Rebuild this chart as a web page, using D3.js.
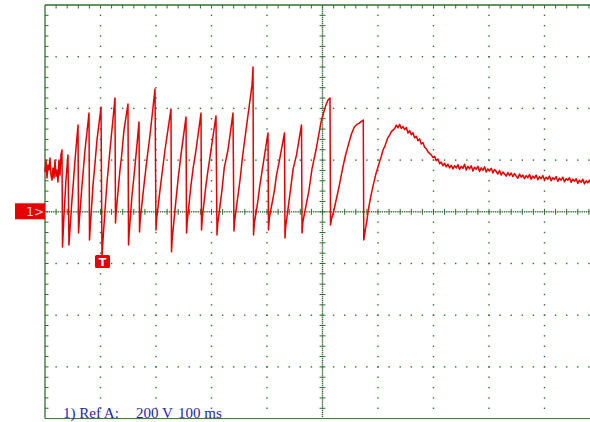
<!DOCTYPE html>
<html><head><meta charset="utf-8">
<script src="https://cdn.jsdelivr.net/npm/d3@7"></script>
<style>html,body{margin:0;padding:0;background:#fff;overflow:hidden}</style>
</head><body>
<svg id="c" width="590" height="422"></svg>
<script>
// Oscilloscope trace: Ref A, 200 V/div, 100 ms/div
const timeMs = [
0,1.8,3.6,5.4,7.2,9.0,10.8,12.6,14.4,16.2,18,19.8,21.6,23.4,25.2,27,28.8,30.6,
31.5,32.6,34.2,37.8,39.5,41.4,
43.2,44.5,48.6,51,54.1,59.5,
60.4,61.6,66.7,69,72.1,79.3,
80.2,81.4,86.5,90,93.7,100.9,
102.7,104.2,108.1,112,117.1,126.1,
127.0,128.3,135.1,138,142.3,149.5,
150.5,151.8,156.8,160,164.0,169.4,
170.3,171.6,178.4,183,189.2,198.2,
200.0,201.3,207.2,211,216.2,227.0,
227.9,229.4,236.0,240,245.0,254.1,
255.0,256.4,263.1,267,272.1,281.1,
282.0,283.4,290.1,294,299.1,308.1,
309.9,311.3,318.9,323,329.7,338.7,
340.5,342.0,351.4,356,362.2,369.4,373.0,374.8,
375.7,377.2,383.8,387,392.8,401.8,
402.7,404.1,413.5,417,422.5,431.5,
432.4,433.8,442.3,447,453.2,462.2,
463.1,464.6,475.7,481,488.3,497.3,501,504.5,507,509.9,513.5,
514.4,516.5,519.4,526.6,531,535.7,541,546.5,552,557.3,562,566.3,570,573.5,
574.4,576,577.1,580,582.5,587,591.5,596,
600,603,606,609,612,615,618,621,624,627,630,633,636,639,642,645,648,651,654,657,660,663,666,669,672,675,678,681,684,687,690,693,696,699,702,705,708,711,714,717,720,723,726,729,732,735,738,741,744,747,750,753,756,759,762,765,768,771,774,777,780,783,786,789,792,795,798,801,804,807,810,813,816,819,822,825,828,831,834,837,840,843,846,849,852,855,858,861,864,867,870,873,876,879,882,885,888,891,894,897,900,903,906,909,912,915,918,921,924,927,930,933,936,939,942,945,948,951,954,957,960,963,966,969,972,975,978,981,984,987,990
];
const voltsV = [
154,200,131,181,162,208,142,123,169,131,200,138,162,115,200,142,220,239,
-136,-90,-12,123,170,220,
-128,-85,46,110,200,336,
-82,-40,104,160,239,382,
-109,-65,104,185,278,405,
-179,-120,7,120,239,440,
-43,0,162,215,316,417,
-128,-80,65,130,220,347,
-78,-30,104,190,297,475,
-70,-25,84,150,239,398,
-155,-100,46,130,220,367,
-82,-35,104,170,239,382,
-70,-25,104,165,239,371,
-90,-45,84,170,239,382,
-74,-30,123,215,316,432,490,560,
-90,-45,46,100,181,305,
-70,-25,84,140,200,305,
-101,-55,84,165,220,336,
-82,-40,84,165,239,347,375,402,418,432,440,
-51,-25,-5,65,110,162,215,258,300,328,338,343,350,355,
-109,-85,-70,-35,7,60,104,145,
173,195,215,239,252,270,288,296,310,316,322,335,325,338,322,330,318,326,305,314,298,306,286,292,275,282,262,268,250,244,232,226,220,210,214,198,204,186,192,178,188,174,184,170,180,166,178,170,182,164,176,168,184,162,176,166,178,158,172,165,176,156,170,160,174,154,166,158,168,150,164,156,146,160,142,154,146,138,152,140,150,136,148,138,130,146,134,142,128,140,132,144,126,138,130,142,124,136,128,140,122,134,126,138,120,132,125,136,118,130,122,134,116,128,122,132,114,126,118,128,110,122,114,126,108,120,112,122,106,116,110
];
const channelLabel = "1>";
const triggerLabel = "T";
const footerParts = ["1) Ref A:", "200 V", "100 ms"];
const xDomain = [0, 1000], yDomain = [-800, 800];
const triggerTimeMs = 102.7;

const svg = d3.select("#c");
const x = d3.scaleLinear().domain(xDomain).range([45, 600]);
const y = d3.scaleLinear().domain(yDomain).range([418.6, 5]);
const green = "#2f6f2f";
const g = svg.append("g");

// border lines
g.append("line").attr("x1",x(0)).attr("x2",x(0)).attr("y1",y(800)).attr("y2",y(-800)).attr("stroke",green).attr("stroke-width",1.3);
g.append("line").attr("x1",x(0)).attr("x2",x(1000)).attr("y1",y(800)).attr("y2",y(800)).attr("stroke",green).attr("stroke-width",1.3);
g.append("line").attr("x1",x(0)).attr("x2",x(1000)).attr("y1",y(-800)).attr("y2",y(-800)).attr("stroke",green).attr("stroke-width",1);

// border ticks
for (let j=1;j<50;j++){ const t=j*20; g.append("line").attr("x1",x(t)).attr("x2",x(t)).attr("y1",y(800)).attr("y2",y(800)+3.5).attr("stroke",green).attr("stroke-width",1);}
for (let j=1;j<40;j++){ const v=-800+j*40; g.append("line").attr("x1",x(0)).attr("x2",x(0)+3.5).attr("y1",y(v)).attr("y2",y(v)).attr("stroke",green).attr("stroke-width",1);}

// dotted grid lines
const dot = (cx,cy)=>g.append("rect").attr("x",cx-0.7).attr("y",cy-0.7).attr("width",1.4).attr("height",1.4).attr("fill",green);
for (let i=1;i<10;i++){ if(i===5) continue; const t=i*100;
  for (let j=1;j<40;j++){ dot(x(t), y(-800+j*40)); } }
for (let k=1;k<8;k++){ if(k===4) continue; const v=-800+k*200;
  for (let j=1;j<50;j++){ dot(x(j*20), y(v)); } }
// center axes, dense
for (let j=1;j<200;j++){ dot(x(500), y(-800+j*8)); }
for (let j=1;j<250;j++){ dot(x(j*4), y(0)); }
for (let j=1;j<40;j++){ const v=-800+j*40; g.append("line").attr("x1",x(500)-3).attr("x2",x(500)+3).attr("y1",y(v)).attr("y2",y(v)).attr("stroke",green).attr("stroke-width",1);}
for (let j=1;j<50;j++){ const t=j*20; g.append("line").attr("x1",x(t)).attr("x2",x(t)).attr("y1",y(0)-3).attr("y2",y(0)+3).attr("stroke",green).attr("stroke-width",1);}

// trace
const pts = timeMs.map((t,i)=>[t, voltsV[i]]);
svg.append("path").datum(pts)
  .attr("d", d3.line().x(d=>x(d[0])).y(d=>y(d[1])))
  .attr("fill","none").attr("stroke","#e60000").attr("stroke-width",1.5).attr("stroke-linejoin","round");

// channel marker
svg.append("rect").attr("x",15).attr("y",y(0)-8.5).attr("width",x(0)-15).attr("height",16).attr("fill","#e60000");
svg.append("text").attr("x",x(0)-1).attr("y",y(0)+4.5).attr("text-anchor","end")
  .attr("font-family","DejaVu Sans, sans-serif").attr("font-size",12).attr("fill","#ffd0d0").text(channelLabel);

// trigger marker
svg.append("rect").attr("x",x(triggerTimeMs)-7).attr("y",255).attr("width",15).attr("height",13).attr("rx",1.5).attr("fill","#e60000");
svg.append("text").attr("x",x(triggerTimeMs)+0.5).attr("y",266).attr("text-anchor","middle")
  .attr("font-family","DejaVu Sans, sans-serif").attr("font-weight","bold").attr("font-size",11).attr("fill","#fff").text(triggerLabel);

// footer
const ft = svg.append("g").attr("font-family","Liberation Serif, Times New Roman, serif").attr("font-size",15).attr("fill","#2424b0");
ft.append("text").attr("x",63).attr("y",418).text(footerParts[0]);
ft.append("text").attr("x",136).attr("y",418).text(footerParts[1]);
ft.append("text").attr("x",178).attr("y",418).text(footerParts[2]);
</script>
</body></html>
